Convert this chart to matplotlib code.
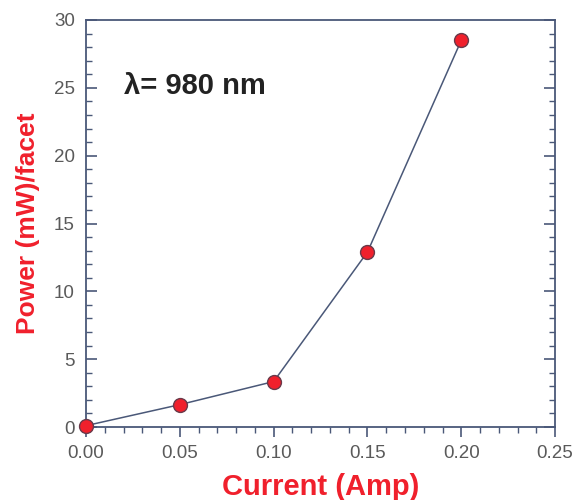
import matplotlib.pyplot as plt
from matplotlib.ticker import MultipleLocator

# current (A) vs output power per facet (mW)
current = [0.00, 0.05, 0.10, 0.15, 0.20]
power = [0.1, 1.65, 3.35, 12.9, 28.5]
x_ticks = [0.00, 0.05, 0.10, 0.15, 0.20, 0.25]
x_tick_labels = ['0.00', '0.05', '0.10', '0.15', '0.20', '0.25']
y_ticks = [0, 5, 10, 15, 20, 25, 30]

plt.rcParams['font.family'] = ['Liberation Sans', 'DejaVu Sans']

spine_col = '#4a5878'
red = '#f0202c'

fig = plt.figure(figsize=(5.74, 5.0), dpi=100)
ax = fig.add_axes([0.150, 0.146, 0.817, 0.814])

ax.plot(current, power, '-', color=spine_col, lw=1.1, zorder=2)
ax.plot(current, power, 'o', color=red, markersize=10,
        markeredgecolor='#6a3a4a', markeredgewidth=1.0, zorder=3, clip_on=False)

ax.set_xlim(0, 0.25)
ax.set_ylim(0, 30)
ax.set_xticks(x_ticks)
ax.set_xticklabels(x_tick_labels)
ax.set_yticks(y_ticks)
ax.xaxis.set_minor_locator(MultipleLocator(0.01))
ax.yaxis.set_minor_locator(MultipleLocator(1))

for s in ax.spines.values():
    s.set_color(spine_col)
    s.set_linewidth(1.3)

ax.tick_params(axis='x', which='both', direction='out', colors=spine_col,
               labelcolor='#5a5a5a', labelsize=13.5, top=False, pad=6)
ax.tick_params(axis='x', which='major', length=7, width=1.2)
ax.tick_params(axis='x', which='minor', length=4, width=1.0)
ax.tick_params(axis='y', which='both', direction='in', colors=spine_col,
               labelcolor='#5a5a5a', labelsize=13.5, left=True, right=True, pad=8)
ax.tick_params(axis='y', which='major', length=8, width=1.2)
ax.tick_params(axis='y', which='minor', length=4, width=1.0)

ax.set_xlabel('Current (Amp)', color=red, fontsize=21, fontweight='bold', labelpad=8)
ax.set_ylabel('Power (mW)/facet', color=red, fontsize=19, fontweight='bold', labelpad=10)

ax.text(0.02, 25.1, '\u03bb= 980 nm', fontsize=21, fontweight='bold', color='#222222',
        ha='left', va='center')

fig.savefig('out.png', dpi=100)
